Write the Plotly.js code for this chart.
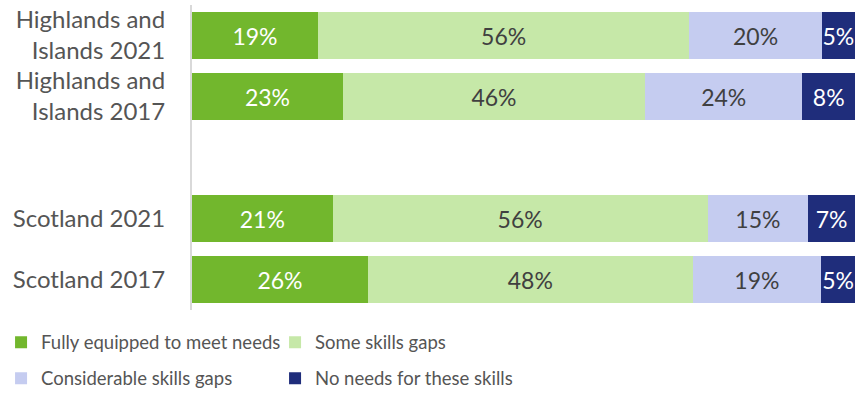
<!DOCTYPE html>
<html>
<head>
<meta charset="utf-8">
<script src="https://cdn.plot.ly/plotly-3.0.1.min.js"></script>
<style>html,body{margin:0;padding:0;background:#fff;}#chart{width:862px;height:396px;}</style>
</head>
<body>
<div id="chart"></div>
<script>
// Categories (top to bottom); ' ' is the empty spacer row
const categories = ['Highlands and<br>Islands 2021', 'Highlands and<br>Islands 2017', ' ', 'Scotland 2021', 'Scotland 2017'];
const seriesNames = ['Fully equipped to meet needs', 'Some skills gaps', 'Considerable skills gaps', 'No needs for these skills'];
const fullyEquipped = [19, 23, null, 21, 26];
const someGaps = [56, 46, null, 56, 48];
const considerableGaps = [20, 24, null, 15, 19];
const noNeeds = [5, 8, null, 7, 5];

const colors = ['#72b72d', '#c6e8a8', '#c5ccf0', '#1f2d7b'];
const textColors = ['#ffffff', '#404040', '#404040', '#ffffff'];
const legendIds = ['legend', 'legend', 'legend2', 'legend2'];
const allSeries = [fullyEquipped, someGaps, considerableGaps, noNeeds];

const traces = allSeries.map((vals, i) => ({
  type: 'bar',
  orientation: 'h',
  name: seriesNames[i],
  y: categories,
  x: vals,
  text: vals.map(v => v == null ? '' : v + '%'),
  texttemplate: '%{text}',
  textposition: 'inside',
  insidetextanchor: 'middle',
  textangle: 0,
  constraintext: 'none',
  textfont: {family: 'Lato, sans-serif', size: 23, color: textColors[i]},
  marker: {color: colors[i], line: {width: 0}},
  legend: legendIds[i],
  hoverinfo: 'skip'
}));

const legendFont = {family: 'Lato, sans-serif', size: 18.5, color: '#555555'};

const layout = {
  width: 862, height: 396,
  margin: {l: 192, r: 7, t: 5, b: 86, autoexpand: false},
  barmode: 'stack',
  barnorm: 'percent',
  bargap: 0.23,
  paper_bgcolor: '#ffffff',
  plot_bgcolor: '#ffffff',
  font: {family: 'Lato, sans-serif', color: '#555555'},
  xaxis: {visible: false, range: [0, 100], fixedrange: true},
  yaxis: {
    type: 'category',
    categoryorder: 'array',
    categoryarray: categories,
    autorange: 'reversed',
    showline: true, linecolor: '#d9d9d9', linewidth: 2,
    ticks: '', showgrid: false, zeroline: false,
    ticklabelstandoff: 20,
    tickfont: {family: 'Lato, sans-serif', size: 24, color: '#555555'}
  },
  showlegend: true,
  legend: {
    orientation: 'h', x: -0.288, xanchor: 'left', y: -0.045, yanchor: 'top',
    entrywidth: 229, entrywidthmode: 'pixels',
    font: legendFont,
    itemwidth: 30, traceorder: 'normal'
  },
  legend2: {
    orientation: 'h', x: -0.288, xanchor: 'left', y: -0.163, yanchor: 'top',
    entrywidth: 229, entrywidthmode: 'pixels',
    font: legendFont,
    itemwidth: 30, traceorder: 'normal'
  }
};

Plotly.newPlot('chart', traces, layout, {displayModeBar: false, staticPlot: true});
</script>
</body>
</html>
